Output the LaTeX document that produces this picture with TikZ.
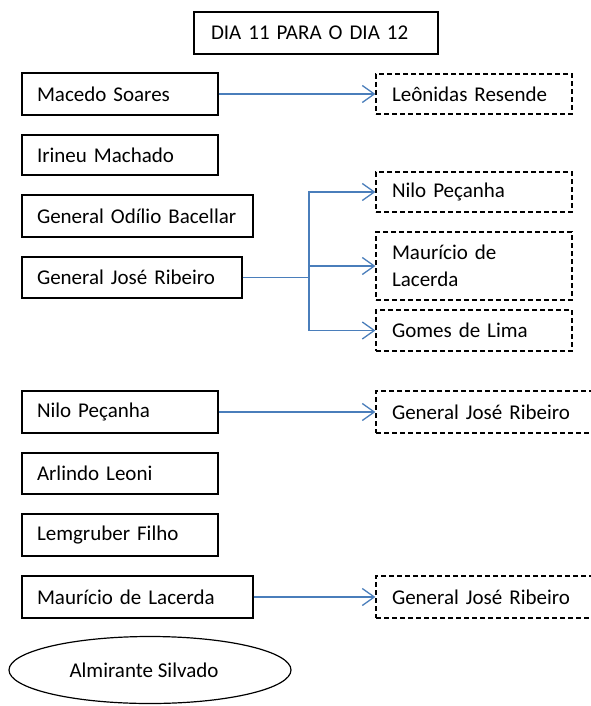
\documentclass[tikz,border=0pt]{standalone}
\usepackage{fontspec}
\setmainfont{Carlito}
\usetikzlibrary{arrows.meta, positioning, shapes.geometric}
\definecolor{linkblue}{RGB}{74,126,187}
\tikzset{
  namebox/.style={draw, rectangle, line width=1.2pt, inner xsep=15pt, inner ysep=0pt, align=left, text width=#1},
  guessbox/.style={draw, rectangle, dash pattern=on 5pt off 3pt, line width=1.2pt, inner xsep=16pt, inner ysep=0pt, align=left, text width=#1},
  link/.style={draw=linkblue, line width=1.3pt, -{Straight Barb[length=12pt,width=17pt]}},
}

\begin{document}
\begin{tikzpicture}[x=1pt, y=-1pt, font=\fontsize{21}{27}\selectfont]
  \useasboundingbox (0,0) rectangle (590,706);

  % Title
  \node[namebox=210pt, inner xsep=17pt, minimum height=42pt] (title) at (316,33) {DIA 11 PARA O DIA 12};

  % Left column
  \node[namebox=166pt, minimum height=42pt] (macedo) at (120,94) {Macedo Soares};
  \node[namebox=166pt, minimum height=40pt] (irineu) at (120,155) {Irineu Machado};
  \node[namebox=201pt, minimum height=42pt] (odilio) at (137.5,216) {General Odílio Bacellar};
  \node[namebox=190pt, minimum height=41pt] (jose) at (132,277.5) {General José Ribeiro};
  \node[namebox=166pt, minimum height=42pt] (nilo) at (120,412) {Nilo Peçanha};
  \node[namebox=166pt, minimum height=41pt] (arlindo) at (120,473.5) {Arlindo Leoni};
  \node[namebox=166pt, minimum height=42pt] (lemgruber) at (120,535) {Lemgruber Filho};
  \node[namebox=201pt, minimum height=42pt] (mauricio) at (137.5,597) {Maurício de Lacerda};
  \node[draw, ellipse, line width=1.2pt, minimum width=282pt, minimum height=67pt, inner sep=0pt] (silvado) at (150,670) {Almirante Silvado\hspace*{12pt}};

  % Right column (dashed)
  \node[guessbox=164pt, minimum height=40pt] (leonidas) at (474,94) {Leônidas Resende};
  \node[guessbox=164pt, minimum height=40pt] (nilo2) at (474,192) {Nilo Peçanha};
  \node[guessbox=164pt, minimum height=68pt] (mauricio2) at (474,266) {Maurício de\\Lacerda};
  \node[guessbox=164pt, minimum height=41pt] (gomes) at (474,330.5) {Gomes de Lima};
  \node[guessbox=188pt, minimum height=42pt] (jose2) at (486,412) {General José Ribeiro};
  \node[guessbox=188pt, minimum height=42pt] (jose3) at (486,597) {General José Ribeiro};

  % Arrows
  \coordinate (split) at (309,277.5);
  \draw[link] (macedo.east) -- (leonidas.west);
  \draw[draw=linkblue, line width=1.3pt] (jose.east) -- (split);
  \draw[link] (split) |- (nilo2.west);
  \draw[link] (split) |- (mauricio2.west);
  \draw[link] (split) |- (gomes.west);
  \draw[link] (nilo.east) -- (jose2.west);
  \draw[link] (mauricio.east) -- (jose3.west);
\end{tikzpicture}
\end{document}
